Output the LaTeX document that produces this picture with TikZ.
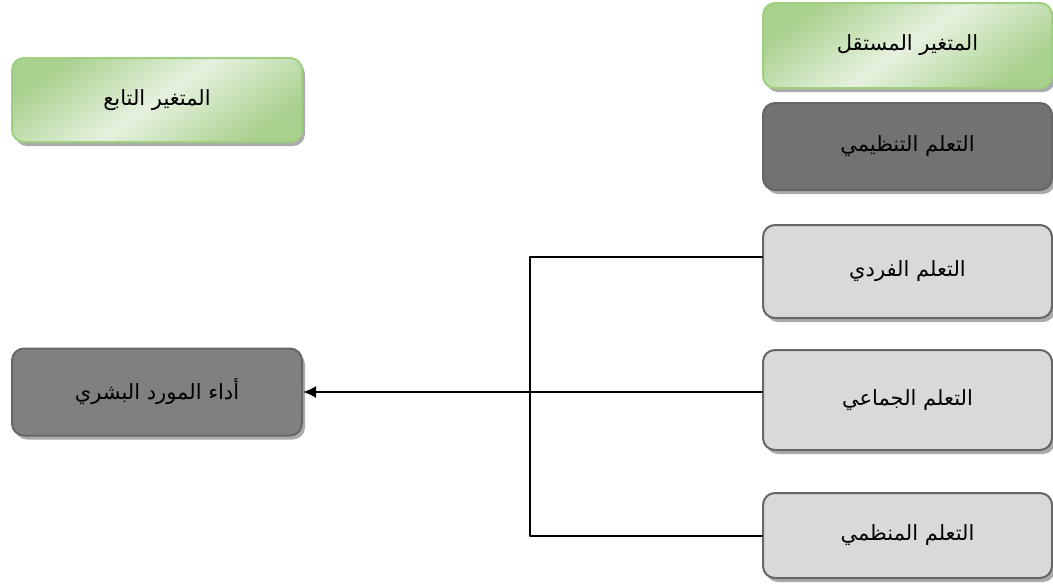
\documentclass[tikz,border=0pt]{standalone}
\usepackage{fontspec}
\newfontfamily\arabicfont[Script=Arabic]{DejaVu Sans}
\TeXXeTstate=1
\usetikzlibrary{arrows.meta,shadows}

\definecolor{greenmid}{HTML}{A9D18E}
\definecolor{greenlight}{HTML}{E6F1DE}
\definecolor{greenline}{HTML}{9FCF80}
\definecolor{darkfill}{HTML}{727272}
\definecolor{midfill}{HTML}{808080}
\definecolor{lightfill}{HTML}{D9D9D9}
\definecolor{boxline}{HTML}{666666}
\definecolor{shadowgray}{HTML}{ABABAB}

\newcommand{\artext}[1]{\arabicfont\fontsize{21}{25}\selectfont\beginR #1\endR}

\begin{document}
\begin{tikzpicture}[x=1pt,y=-1pt,line cap=round,line join=round,
  box/.style={draw=boxline,line width=2pt,rounded corners=12pt,inner sep=0pt,
    minimum width=289pt,
    drop shadow={shadow xshift=3pt,shadow yshift=-4pt,fill=shadowgray,opacity=1}},
  greenbox/.style={box,draw=greenline,top color=greenmid,bottom color=greenmid,
    middle color=greenlight,shading angle=35},
  darkbox/.style={box,fill=darkfill},
  lightbox/.style={box,fill=lightfill},
  link/.style={line width=2pt,black}]
\useasboundingbox (0,0) rectangle (1053,587);

% right column
\node[greenbox,minimum height=85pt] (indep) at (907.5,45.5) {\artext{المتغير المستقل}};
\node[darkbox,minimum height=87pt] (orglearn) at (907.5,146.5) {\artext{التعلم التنظيمي}};
\node[lightbox,minimum height=93pt] (indiv) at (907.5,271.5) {\artext{التعلم الفردي}};
\node[lightbox,minimum height=100pt] (collect) at (907.5,400) {\artext{التعلم الجماعي}};
\node[lightbox,minimum height=85pt] (organiz) at (907.5,535.5) {\artext{التعلم المنظمي}};

% left column
\node[greenbox,minimum width=290pt,minimum height=84pt] (dep) at (157,100) {\artext{المتغير التابع}};
\node[box,fill=midfill,minimum width=290pt,minimum height=87pt] (perf) at (157,392) {\artext{أداء المورد البشري}};

% links
\coordinate (hub) at (530,392);
\draw[link] ([yshift=14.5pt]indiv.west) -| (hub) |- (organiz.west);
\draw[link] ([yshift=8pt]collect.west) -- (hub);
\draw[link,-{Latex[length=13pt,width=12pt]}] (hub) -- (perf.east);
\end{tikzpicture}
\end{document}
